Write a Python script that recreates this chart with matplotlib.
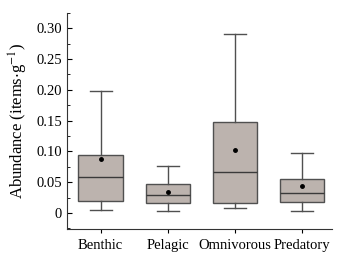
import matplotlib
matplotlib.use("Agg")
from matplotlib import pyplot as plt
from matplotlib.ticker import MultipleLocator, FuncFormatter

plt.rcParams['font.family'] = ['Liberation Serif', 'DejaVu Serif']
plt.rcParams['mathtext.fontset'] = 'stix'

groups = ["Benthic", "Pelagic", "Omnivorous", "Predatory"]
whislo = [0.005, 0.003, 0.008, 0.003]
q1 = [0.0195, 0.016, 0.017, 0.018]
med = [0.058, 0.030, 0.0665, 0.032]
q3 = [0.094, 0.0465, 0.148, 0.0546]
whishi = [0.198, 0.077, 0.290, 0.097]
means = [0.088, 0.035, 0.102, 0.044]

stats = []
for i in range(len(groups)):
    stats.append({"label": groups[i], "whislo": whislo[i], "q1": q1[i], "med": med[i],
                  "q3": q3[i], "whishi": whishi[i], "mean": means[i], "fliers": []})

fig = plt.figure(figsize=(3.44, 2.58), dpi=100)
ax = fig.add_axes([0.195, 0.112, 0.77, 0.838])

edge = "#505050"
ax.bxp(stats, positions=[1, 2, 3, 4], widths=0.66, patch_artist=True, showmeans=True,
       boxprops=dict(facecolor="#bcb3ae", edgecolor=edge, linewidth=1.0),
       medianprops=dict(color="#3a3a3a", linewidth=1.0),
       whiskerprops=dict(color=edge, linewidth=1.0),
       capprops=dict(color=edge, linewidth=1.0),
       capwidths=0.33,
       meanprops=dict(marker="o", markerfacecolor="black", markeredgecolor="black", markersize=2.5))

ax.set_xlim(0.5, 4.45)
ax.set_ylim(-0.026, 0.325)
ax.yaxis.set_major_locator(MultipleLocator(0.05))
ax.yaxis.set_minor_locator(MultipleLocator(0.025))
ax.yaxis.set_major_formatter(FuncFormatter(lambda v, p: "0" if abs(v) < 1e-9 else "%.2f" % v))
ax.tick_params(axis="y", which="both", direction="in", labelsize=10.5)
ax.tick_params(axis="y", which="major", length=3.5)
ax.tick_params(axis="y", which="minor", length=2)
ax.tick_params(axis="x", direction="out", length=3, labelsize=10.5, pad=4)
ax.spines["top"].set_visible(False)
ax.spines["right"].set_visible(False)
for s in ["left", "bottom"]:
    ax.spines[s].set_color("#333333")
ax.set_ylabel(r"Abundance (items$\cdot$g$^{-1}$)", fontsize=12, labelpad=5)

fig.savefig("out.png", dpi=100)
